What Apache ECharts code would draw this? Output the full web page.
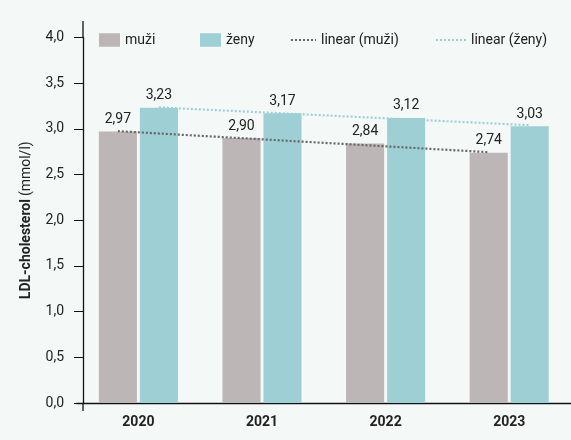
<!DOCTYPE html>
<html><head><meta charset="utf-8">
<script src="https://cdn.jsdelivr.net/npm/echarts@6/dist/echarts.min.js"></script>
<style>html,body{margin:0;padding:0;background:#F4F8F7;}#c{width:571px;height:440px;}</style>
</head><body><div id="c"></div>
<script>
const categories = ['2020', '2021', '2022', '2023'];
const muzi = [2.97, 2.90, 2.84, 2.74];
const zeny = [3.23, 3.17, 3.12, 3.03];
// trend line values at first and last year
const trendMuzi = [2.975, 2.745];
const trendZeny = [3.235, 3.04];
const yTicks = [0, 0.5, 1, 1.5, 2, 2.5, 3, 3.5, 4];

const catGap = 0.36, barGapFrac = 0.077;
const off = (1 - catGap) / (2 + barGapFrac) * (1 + barGapFrac) / 2;
const lastIdx = categories.length - 1;

const font = 'Roboto, "Liberation Sans", sans-serif';
const cMuzi = '#BDB6B6', cZeny = '#9ECFD5';
const chart = echarts.init(document.getElementById('c'));
const legendBase = {top: 28, itemHeight: 13.5, itemWidth: 21, itemGap: 7,
  textStyle: {fontFamily: font, fontSize: 14, color: '#222'}, selectedMode: false};
chart.setOption({
  backgroundColor: '#F4F8F7',
  animation: false,
  textStyle: {fontFamily: font},
  legend: [
    Object.assign({}, legendBase, {left: 94, data: [{name: 'muži', icon: 'rect'}]}),
    Object.assign({}, legendBase, {left: 195, data: [{name: 'ženy', icon: 'rect'}]}),
    Object.assign({}, legendBase, {left: 285, itemWidth: 25, itemStyle: {opacity: 0}, data: ['linear (muži)']}),
    Object.assign({}, legendBase, {left: 430, itemWidth: 30, itemStyle: {opacity: 0}, data: ['linear (ženy)']})
  ],
  grid: {left: 76.6, right: -12.9, top: 37.5, bottom: 37, containLabel: false},
  xAxis: [{
    type: 'category', data: categories,
    axisLine: {lineStyle: {color: '#111', width: 1.3}},
    axisTick: {show: false},
    axisLabel: {fontFamily: font, fontSize: 14, fontWeight: 'bold', color: '#222', margin: 12}
  }, {
    type: 'value', min: -0.5, max: lastIdx + 0.5, show: false
  }],
  yAxis: {
    type: 'value', min: 0, max: 4, interval: 0.5, offset: -6.4,
    name: '{b|LDL-cholesterol} {n|(mmol/l)}', nameLocation: 'middle', nameGap: 50,
    nameTextStyle: {rich: {
      b: {fontFamily: font, fontSize: 14, fontWeight: 'bold', color: '#222'},
      n: {fontFamily: font, fontSize: 14, color: '#222'}
    }},
    axisLine: {show: true, onZero: false, lineStyle: {color: '#111', width: 1.3}},
    axisTick: {show: true, length: 9, lineStyle: {color: '#111'}},
    splitLine: {show: false},
    axisLabel: {fontFamily: font, fontSize: 14, color: '#222', margin: 19,
      formatter: v => yTicks.includes(v) ? v.toFixed(1).replace('.', ',') : ''}
  },
  series: [
    {name: 'muži', type: 'bar', data: muzi, barCategoryGap: (catGap * 100) + '%', barGap: (barGapFrac * 100) + '%',
      itemStyle: {color: cMuzi},
      label: {show: true, position: 'top', distance: 5, fontFamily: font, fontSize: 14, color: '#222',
        formatter: p => p.value.toFixed(2).replace('.', ',')}},
    {name: 'ženy', type: 'bar', data: zeny,
      itemStyle: {color: cZeny},
      label: {show: true, position: 'top', distance: 5, fontFamily: font, fontSize: 14, color: '#222',
        formatter: p => p.value.toFixed(2).replace('.', ',')}},
    {name: 'linear (muži)', type: 'line', xAxisIndex: 1, symbol: 'none', z: 5,
      data: [[0 - off, trendMuzi[0]], [lastIdx - off, trendMuzi[1]]],
      lineStyle: {color: '#666', width: 2.2, type: [2, 2]}, itemStyle: {color: '#666'}},
    {name: 'linear (ženy)', type: 'line', xAxisIndex: 1, symbol: 'none', z: 5,
      data: [[0 + off, trendZeny[0]], [lastIdx + off, trendZeny[1]]],
      lineStyle: {color: cZeny, width: 2.2, type: [2, 2]}, itemStyle: {color: cZeny}}
  ]
});
// small extensions of the y axis line above the top and below the x axis
const yTopPx = chart.convertToPixel({yAxisIndex: 0}, 4);
const yBotPx = chart.convertToPixel({yAxisIndex: 0}, 0);
const axX = chart.getModel().getComponent('grid').coordinateSystem.getRect().x + 6.4;
chart.setOption({graphic: [
  {type: 'line', shape: {x1: axX, y1: yTopPx - 16.5, x2: axX, y2: yTopPx}, style: {stroke: '#111', lineWidth: 1.3}},
  {type: 'line', shape: {x1: axX, y1: yBotPx, x2: axX, y2: yBotPx + 8}, style: {stroke: '#111', lineWidth: 1.3}}
]});
</script></body></html>
